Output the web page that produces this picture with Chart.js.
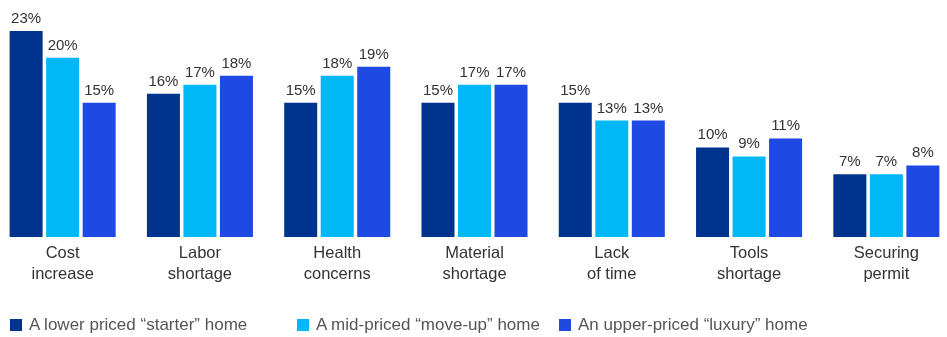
<!DOCTYPE html>
<html>
<head>
<meta charset="utf-8">
<script src="https://cdn.jsdelivr.net/npm/chart.js@4/dist/chart.umd.min.js"></script>
<style>
  html, body { margin: 0; padding: 0; background: #fff; overflow: hidden; }
  #page { width: 947px; height: 337px; position: relative; overflow: hidden; }
  #wrap { position: absolute; left: -6px; top: 0; width: 961px; height: 337px; }
  #legend { position: absolute; left: 0; top: 315px; width: 947px; height: 20px;
            font: 17px 'Liberation Sans', Arial, sans-serif; color: #555; white-space: nowrap; }
  #legend .item { position: absolute; top: 0; display: flex; align-items: center; height: 20px; }
  #legend .box { width: 12px; height: 12px; margin-right: 7px; }
</style>
</head>
<body>
<div id="page">
  <div id="wrap"><canvas id="chart"></canvas></div>
  <div id="legend"></div>
</div>
<script>
const categories = [
  ["Cost", "increase"],
  ["Labor", "shortage"],
  ["Health", "concerns"],
  ["Material", "shortage"],
  ["Lack", "of time"],
  ["Tools", "shortage"],
  ["Securing", "permit"]
];
const starterHome = [23, 16, 15, 15, 15, 10, 7];
const moveUpHome = [20, 17, 18, 17, 13, 9, 7];
const luxuryHome = [15, 18, 19, 17, 13, 11, 8];
const seriesNames = [
  "A lower priced \u201cstarter\u201d home",
  "A mid-priced \u201cmove-up\u201d home",
  "An upper-priced \u201cluxury\u201d home"
];
const seriesColors = ["#00338D", "#00B8F5", "#1E49E2"];
const legendLefts = [10, 297, 559];

const FONT = "'Liberation Sans', Arial, sans-serif";

// draw the % value above each bar
const valueLabels = {
  id: "valueLabels",
  afterDatasetsDraw(chart) {
    const ctx = chart.ctx;
    ctx.save();
    ctx.font = "15px " + FONT;
    ctx.fillStyle = "#333333";
    ctx.textAlign = "center";
    ctx.textBaseline = "alphabetic";
    chart.data.datasets.forEach((ds, i) => {
      const meta = chart.getDatasetMeta(i);
      meta.data.forEach((bar, j) => {
        ctx.fillText(ds.data[j] + "%", bar.x, bar.y - 8);
      });
    });
    ctx.restore();
  }
};

const chart = new Chart(document.getElementById("chart"), {
  type: "bar",
  data: {
    labels: categories,
    datasets: [starterHome, moveUpHome, luxuryHome].map((values, i) => ({
      label: seriesNames[i],
      data: values,
      backgroundColor: seriesColors[i],
      borderWidth: 0,
      categoryPercentage: 0.798,
      barPercentage: 0.904
    }))
  },
  options: {
    responsive: true,
    maintainAspectRatio: false,
    animation: false,
    layout: { padding: { top: 13, left: 0, right: 0, bottom: 46 } },
    plugins: {
      tooltip: { enabled: false },
      legend: { display: false }
    },
    scales: {
      x: {
        grid: { display: false, drawTicks: false },
        border: { display: false },
        ticks: {
          color: "#333333",
          padding: 6,
          maxRotation: 0,
          font: { family: FONT, size: 16.5, lineHeight: 1.27 }
        }
      },
      y: {
        display: false,
        min: 0,
        max: 25
      }
    }
  },
  plugins: [valueLabels]
});

// simple html legend
const legendEl = document.getElementById("legend");
chart.data.datasets.forEach((ds, i) => {
  const item = document.createElement("div");
  item.className = "item";
  item.style.left = legendLefts[i] + "px";
  const box = document.createElement("span");
  box.className = "box";
  box.style.background = ds.backgroundColor;
  const text = document.createElement("span");
  text.textContent = ds.label;
  item.appendChild(box);
  item.appendChild(text);
  legendEl.appendChild(item);
});
</script>
</body>
</html>
